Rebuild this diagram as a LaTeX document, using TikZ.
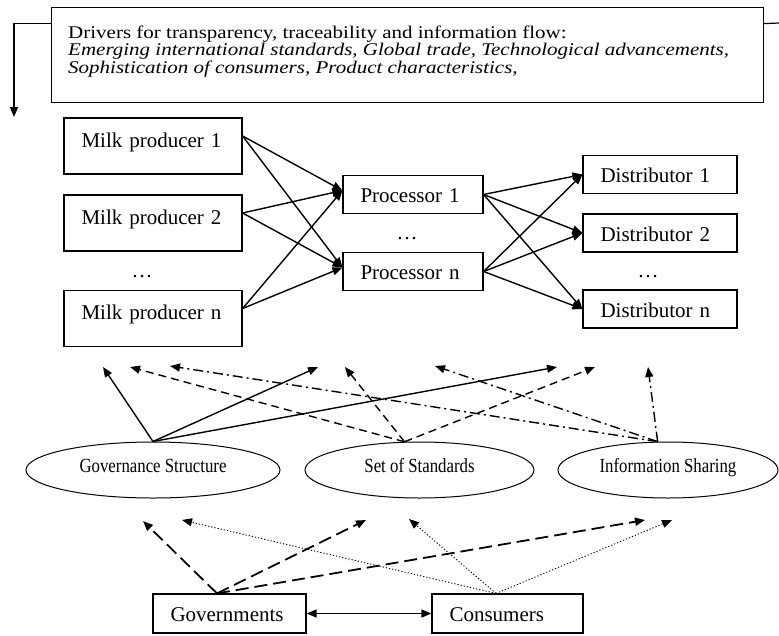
\documentclass[tikz,border=0pt]{standalone}
\usepackage{fontspec}
\setmainfont{Liberation Serif}
\usepackage{graphicx}
\usetikzlibrary{arrows.meta,shapes.geometric}

\begin{document}
\begin{tikzpicture}[x=1pt, y=-1pt,
  every node/.style={font=\fontsize{21}{24}\selectfont},
  arrowtip/.style={-{Triangle[length=10pt,width=8pt]}},
  chainbox/.style={draw, line width=1.2pt, rectangle, inner xsep=17.5pt, inner ysep=0pt,
    align=left, text height=17pt, text depth=1pt, minimum height=38pt},
  farmbox/.style={chainbox, text height=13pt, text depth=11pt, minimum height=56pt, text width=143pt},
  ellipsisnode/.style={inner sep=0pt, anchor=base},
  pillar/.style={draw, line width=1pt, ellipse, inner sep=0pt, minimum height=56pt,
    font=\fontsize{20}{22}\selectfont, text height=12pt, text depth=7pt},
  flow/.style={line width=1.4pt, arrowtip},
  govern/.style={line width=1.4pt, arrowtip},
  standard/.style={line width=1.4pt, dash pattern=on 8pt off 5pt, arrowtip},
  share/.style={line width=1.4pt, dash pattern=on 10pt off 4pt on 2pt off 4pt, arrowtip},
  official/.style={line width=1.8pt, dash pattern=on 13pt off 6pt, arrowtip},
  public/.style={line width=0.9pt, dash pattern=on 1.2pt off 2pt, arrowtip},
]
\useasboundingbox (0,0) rectangle (779,635);

% drivers box
\node[draw, line width=1.2pt, rectangle, minimum width=712pt, minimum height=95pt,
  inner sep=0pt, anchor=north west] (drivers) at (51,7) {};
\node[anchor=north west, inner sep=0pt] (drivertext) at (68,25.5)
  {\scalebox{1}[0.85]{\parbox{680pt}{\fontsize{21}{20.5}\selectfont\raggedright
   Drivers for transparency, traceability and information flow:\\
   \textit{Emerging international standards, Global trade, Technological advancements,}\\
   \textit{Sophistication of consumers, Product characteristics,}}}};
\coordinate (downend) at (14,117);
\coordinate (rightend) at (779,23);
\draw[line width=1.2pt, arrowtip] ([yshift=31.5pt]drivers.west) -| (downend);
\draw[line width=1.2pt] ([yshift=31.5pt]drivers.east) -- (rightend);

% milk producers
\node[farmbox] (mp1) at (153,146) {Milk producer 1};
\node[farmbox] (mp2) at (153,223) {Milk producer 2};
\node[ellipsisnode] (mpdots) at (142,277) {…};
\node[farmbox] (mpn) at (153,318.5) {Milk producer n};

% processors
\node[chainbox, text width=105pt] (p1) at (413,194.5) {Processor 1};
\node[ellipsisnode] (pdots) at (407,239) {…};
\node[chainbox, text width=105pt] (pn) at (413,271.5) {Processor n};

% distributors
\node[chainbox, text width=119pt] (d1) at (660,174.5) {Distributor 1};
\node[chainbox, text width=119pt] (d2) at (660,233) {Distributor 2};
\node[ellipsisnode] (ddots) at (648,277) {…};
\node[chainbox, text width=119pt] (dn) at (660,309) {Distributor n};

% product flow
\foreach \s in {mp1,mp2,mpn}
  \foreach \t in {p1,pn}
    \draw[flow] ([yshift=10pt]\s.east) -- ([yshift=4pt]\t.west);
\foreach \s in {p1,pn}
  \foreach \t in {d1,d2,dn}
    \draw[flow] (\s.east) -- (\t.west);

% pillars
\node[pillar, minimum width=254pt] (govstruct) at (153,470) {\scalebox{0.84}[1]{Governance Structure}};
\node[pillar, minimum width=229pt] (standards) at (419.5,470) {\scalebox{0.84}[1]{Set of Standards}};
\node[pillar, minimum width=220pt] (infoshare) at (668,470) {\scalebox{0.84}[1]{Information Sharing}};

% influence on the chain
\coordinate (gs1) at (103,367);
\coordinate (gs2) at (318,367);
\coordinate (gs3) at (557,367);
\coordinate (ss1) at (130,367);
\coordinate (ss2) at (345,367);
\coordinate (ss3) at (595,367);
\coordinate (is1) at (170,366);
\coordinate (is2) at (435,366);
\coordinate (is3) at (648,367);
\foreach \e in {gs1,gs2,gs3} \draw[govern] (govstruct.north) -- (\e);
\foreach \e in {ss1,ss2,ss3} \draw[standard] (standards.118) -- (\e);
\foreach \e in {is1,is2,is3} \draw[share] (infoshare.110) -- (\e);

% stakeholders
\node[chainbox, text width=118pt, minimum height=39pt] (governments) at (229.5,613.5) {Governments};
\node[chainbox, text width=116pt, minimum height=39pt] (consumers) at (507.5,613.5) {Consumers};
\draw[line width=1.4pt, {Triangle[length=10pt,width=8pt]}-{Triangle[length=10pt,width=8pt]}]
  (governments.east) -- (consumers.west);

\coordinate (gb1) at (143,521);
\coordinate (gb2) at (366,520);
\coordinate (gb3) at (645,520);
\coordinate (cb1) at (182,520);
\coordinate (cb2) at (409,519);
\coordinate (cb3) at (672,520);
\foreach \e in {gb1,gb2,gb3} \draw[official] ([xshift=-12.5pt]governments.north) -- (\e);
\foreach \e in {cb1,cb2,cb3} \draw[public] ([xshift=-11.5pt]consumers.north) -- (\e);
\end{tikzpicture}
\end{document}
